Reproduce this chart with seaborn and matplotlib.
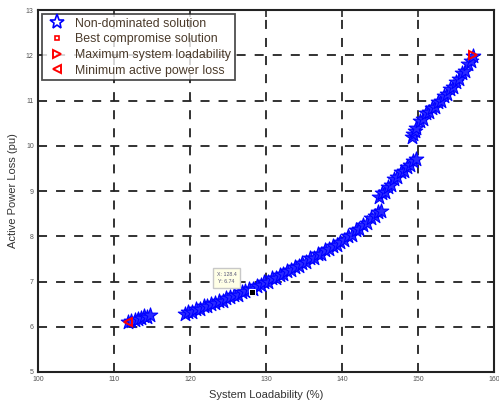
import numpy as np
import pandas as pd
import matplotlib
matplotlib.use("Agg")
import matplotlib.pyplot as plt
import seaborn as sns
from matplotlib.lines import Line2D

# Non-dominated solutions
seg_a_x = [111.9, 112.3, 112.8, 113.2, 113.6, 114.0, 114.4, 114.8]
seg_a_y = [6.10, 6.13, 6.14, 6.18, 6.19, 6.23, 6.22, 6.26]

seg_b_x = [119.3, 119.8, 120.3, 120.8, 121.3, 121.8, 122.3, 122.8, 123.3, 123.8,
           124.3, 124.8, 125.3, 125.8, 126.3, 126.8, 127.3, 127.8, 128.3, 128.8,
           129.3, 129.8, 130.3, 130.8, 131.3, 131.8, 132.3, 132.8, 133.3, 133.8,
           134.3, 134.8, 135.3, 135.8, 136.3, 136.8, 137.3, 137.8, 138.3, 138.8,
           139.3, 139.8, 140.3, 140.8, 141.3, 141.8, 142.3, 142.8, 143.3, 143.8,
           144.3, 144.8, 145.1]
seg_b_y = [6.28, 6.33, 6.33, 6.39, 6.40, 6.45, 6.46, 6.51, 6.52, 6.57,
           6.58, 6.64, 6.65, 6.71, 6.71, 6.77, 6.78, 6.84, 6.84, 6.91,
           6.92, 6.99, 7.00, 7.07, 7.08, 7.15, 7.16, 7.24, 7.25, 7.32,
           7.34, 7.42, 7.43, 7.51, 7.52, 7.60, 7.61, 7.69, 7.71, 7.78,
           7.80, 7.88, 7.91, 8.00, 8.03, 8.13, 8.16, 8.26, 8.30, 8.40,
           8.44, 8.54, 8.57]

seg_c_x = [144.9, 145.3, 145.7, 146.1, 146.5, 146.9, 147.3, 147.7, 148.1, 148.5,
           148.9, 149.3, 149.7]
seg_c_y = [8.87, 8.95, 8.99, 9.09, 9.14, 9.27, 9.32, 9.42, 9.45, 9.54,
           9.57, 9.66, 9.70]

seg_d_x = [149.2, 149.4, 149.6, 149.8, 150.2, 150.6, 151.0, 151.4, 151.8, 152.2, 152.6,
           153.0, 153.4, 153.8, 154.2, 154.6, 155.0, 155.4, 155.8, 156.2, 156.6,
           157.0, 157.2]
seg_d_y = [10.20, 10.27, 10.33, 10.40, 10.54, 10.60, 10.72, 10.74, 10.84, 10.86, 10.96,
           10.98, 11.10, 11.14, 11.26, 11.30, 11.42, 11.47, 11.60, 11.66, 11.80,
           11.88, 11.98]

best_x, best_y = 128.2, 6.76
max_load_x, max_load_y = 157.2, 12.0
min_loss_x, min_loss_y = 111.9, 6.10

x_ticks = [100, 110, 120, 130, 140, 150, 160]
y_ticks = [5, 6, 7, 8, 9, 10, 11, 12, 13]

df = pd.DataFrame({
    "x": seg_a_x + seg_b_x + seg_c_x + seg_d_x,
    "y": seg_a_y + seg_b_y + seg_c_y + seg_d_y,
})

sns.set_style("white")
plt.rcParams['font.family'] = ['Liberation Sans', 'DejaVu Sans']

fig = plt.figure(figsize=(4.99, 4.05), dpi=100)
ax = fig.add_axes([0.076, 0.0815, 0.914, 0.8935])

sns.scatterplot(data=df, x="x", y="y", ax=ax, marker="*", s=120,
                facecolor="#2a2aff", edgecolor="#0000ff", linewidth=0.8, zorder=3)

ax.plot([best_x], [best_y], marker="s", ms=3.5, color="red", mfc="none", mew=1, ls="none", zorder=4)
ax.plot([max_load_x], [max_load_y], marker=">", ms=6, color="red", mfc="none", mew=1.4, ls="none", zorder=4)
ax.plot([min_loss_x], [min_loss_y], marker="<", ms=6, color="red", mfc="none", mew=1.4, ls="none", zorder=4)
ax.plot([best_x], [best_y], marker="s", ms=4.5, color="black", mec="white", mew=0.7, ls="none", zorder=5)

# data tip
ax.text(124.8, 7.08, "X: 128.4\nY: 6.74", fontsize=3.8, ha="center", va="center",
        color="#555577", zorder=6, linespacing=1.6,
        bbox=dict(boxstyle="square,pad=0.7", fc="#ffffe6", ec="#c8c8c8", lw=1.0))

ax.set_xlim(100, 160)
ax.set_ylim(5, 13)
ax.set_xticks(x_ticks)
ax.set_yticks(y_ticks)
ax.set_xticklabels([str(t) for t in x_ticks], fontsize=5, color="#555555")
ax.set_yticklabels([str(t) for t in y_ticks], fontsize=5, color="#555555")
ax.tick_params(direction="in", length=5, width=1.2, top=True, right=True, pad=3)

ax.grid(True, color="#222222", linestyle=(0, (5, 5)), linewidth=1.3)
ax.set_axisbelow(True)
for s in ax.spines.values():
    s.set_color("#222222")
    s.set_linewidth(1.5)

ax.set_xlabel("System Loadability (%)", fontsize=8, color="#333333", labelpad=5)
ax.set_ylabel("Active Power Loss (pu)", fontsize=8, color="#333333", labelpad=6)

handles = [
    Line2D([], [], marker="*", ls="none", color="#0000ff", mfc="none", ms=11, mew=1.2),
    Line2D([], [], marker="s", ls="none", color="red", mfc="none", ms=3.5, mew=1.2),
    Line2D([], [], marker=">", ls="none", color="red", mfc="none", ms=6, mew=1.4),
    Line2D([], [], marker="<", ls="none", color="red", mfc="none", ms=6, mew=1.4),
]
labels = ["Non-dominated solution", "Best compromise solution",
          "Maximum system loadability", "Minimum active power loss"]
leg = ax.legend(handles, labels, loc="upper left", fontsize=8.9, frameon=True,
                fancybox=False, edgecolor="#222222", borderaxespad=0.3,
                handletextpad=0.5, labelspacing=0.3, borderpad=0.3,
                handlelength=1.9)
leg.get_frame().set_linewidth(1.3)
for t in leg.get_texts():
    t.set_color("#4a3a2a")

fig.savefig("out.png", dpi=100)
